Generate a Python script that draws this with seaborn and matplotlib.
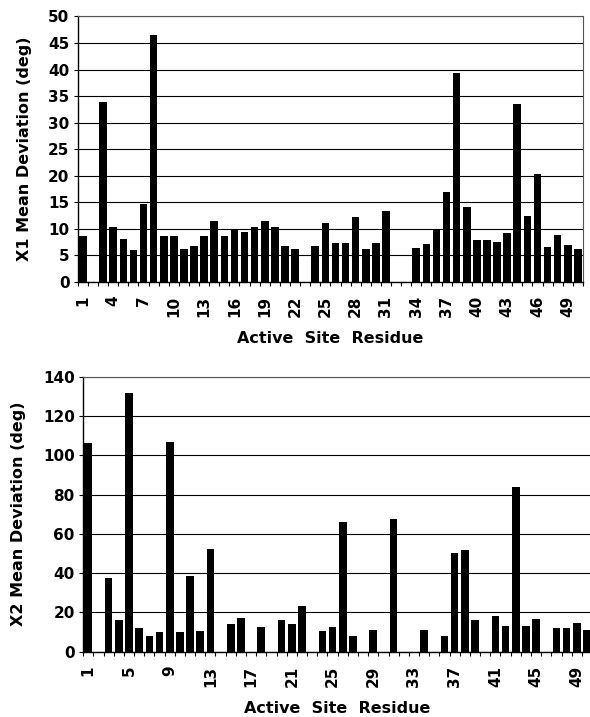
import numpy as np
import pandas as pd
import matplotlib
matplotlib.use("Agg")
import matplotlib.pyplot as plt
import seaborn as sns

residues = list(range(1, 51))

chi1_dev = [8.7, 0, 33.8, 10.3, 8.1, 6.0, 14.6, 46.5, 8.7, 8.7,
            6.1, 6.7, 8.7, 11.5, 8.7, 9.9, 9.3, 10.4, 11.5, 10.4,
            6.7, 6.1, 0, 6.7, 11.1, 7.4, 7.4, 12.3, 6.2, 7.4,
            13.3, 0, 0, 6.4, 7.1, 9.9, 17.0, 39.3, 14.0, 7.9,
            7.9, 7.5, 9.2, 33.5, 12.4, 20.4, 6.5, 8.9, 7.0, 6.2]

chi2_dev = [106.4, 0, 37.7, 16.1, 131.8, 12.2, 8.1, 10.2, 106.6, 9.8,
            38.5, 10.4, 52.1, 0, 14.1, 17.0, 0, 12.4, 0, 16.1,
            14.1, 23.2, 0, 10.7, 12.4, 65.8, 8.0, 0, 10.9, 0,
            67.5, 0, 0, 10.9, 0, 8.0, 50.1, 51.6, 16.3, 0,
            18.2, 12.9, 84.0, 12.9, 16.5, 0, 12.2, 12.2, 14.8, 11.2]

top_tick_labels = [str(r) for r in range(1, 51, 3)]
bottom_tick_labels = [str(r) for r in range(1, 51, 4)]

x_label = "Active  Site  Residue"
y1_label = "X1 Mean Deviation (deg)"
y2_label = "X2 Mean Deviation (deg)"

sns.set_style("white")
plt.rcParams['font.family'] = ['DejaVu Sans']
plt.rcParams['text.color'] = 'black'
plt.rcParams['axes.labelcolor'] = 'black'
plt.rcParams['xtick.color'] = 'black'
plt.rcParams['ytick.color'] = 'black'

fig = plt.figure(figsize=(5.90, 7.17), dpi=100)
ax1 = fig.add_axes([0.132, 0.607, 0.856, 0.370])
ax2 = fig.add_axes([0.141, 0.0911, 0.8625, 0.3835])

df1 = pd.DataFrame({"residue": residues, "dev": chi1_dev})
df2 = pd.DataFrame({"residue": residues, "dev": chi2_dev})


def style_axis(ax, df, ymax, ystep, labels, ylabel, ylabelpad):
    sns.barplot(data=df, x="residue", y="dev", order=residues, color="black",
                width=0.75, ax=ax, errorbar=None, zorder=3, edgecolor="black",
                linewidth=0)
    ax.set_xlim(-0.5, len(residues) - 0.5)
    ax.set_ylim(0, ymax)
    ticks = np.arange(0, ymax + 0.1, ystep)
    ax.set_yticks(ticks)
    ax.set_yticklabels([str(int(v)) for v in ticks], fontsize=11, fontweight="bold",
                       color="black")
    pos = [residues.index(int(l)) for l in labels]
    ax.set_xticks(pos)
    ax.set_xticklabels(labels, rotation=90, fontsize=11, fontweight="bold",
                       color="black")
    ax.set_xticks(np.arange(-0.5, len(residues) + 0.5, 1), minor=True)
    ax.tick_params(axis="x", which="major", length=0, pad=10)
    ax.tick_params(axis="x", which="minor", length=3, width=0.8, direction="out",
                   color="black", bottom=True)
    ax.tick_params(axis="y", which="major", length=3, width=0.8, direction="out",
                   color="black", left=True, pad=3)
    ax.yaxis.grid(True, color="black", linewidth=0.8, zorder=0)
    ax.set_axisbelow(True)
    for s in ["left", "bottom"]:
        ax.spines[s].set_color("black")
        ax.spines[s].set_linewidth(1.0)
    for s in ["top", "right"]:
        ax.spines[s].set_color("#555555")
        ax.spines[s].set_linewidth(0.8)
    ax.set_xlabel(x_label, fontsize=11.5, fontweight="bold", labelpad=10,
                  color="black")
    ax.set_ylabel(ylabel, fontsize=11.5, fontweight="bold", labelpad=ylabelpad,
                  color="black")


style_axis(ax1, df1, 50, 5, top_tick_labels, y1_label, 12)
style_axis(ax2, df2, 140, 20, bottom_tick_labels, y2_label, 12)

fig.savefig("out.png", dpi=100, facecolor="white")
